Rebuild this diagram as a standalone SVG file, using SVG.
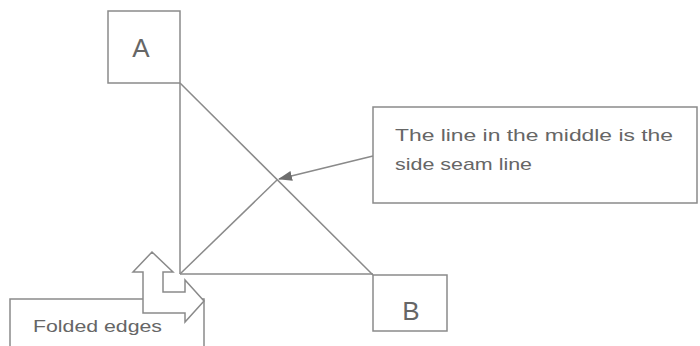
<svg xmlns="http://www.w3.org/2000/svg" width="700" height="346" viewBox="0 0 700 346">
<style>
.box{fill:#fff;stroke:#8a8a8a;stroke-width:1.5}
.ln{fill:none;stroke:#8a8a8a;stroke-width:1.5}
.t{font-family:"Liberation Sans",Arial,sans-serif;fill:#666}
</style>
<defs>
<marker id="ah" markerWidth="14" markerHeight="10" refX="13" refY="5" orient="auto" markerUnits="userSpaceOnUse" viewBox="0 0 14 10">
<path d="M0,0 L14,5 L0,10 Z" fill="#6e6e6e"/>
</marker>
</defs>
<rect width="700" height="346" fill="#fff"/>
<g id="connectors">
<line class="ln" x1="180" y1="83" x2="180" y2="274"/>
<line class="ln" x1="180" y1="274" x2="373" y2="274"/>
<line class="ln" x1="180" y1="83" x2="373" y2="275"/>
<line class="ln" x1="180" y1="274" x2="277" y2="180"/>
<line class="ln" x1="373" y1="156" x2="279" y2="179" marker-end="url(#ah)" style="stroke-width:1.7"/>
</g>
<g id="nodeA">
<rect class="box" x="108" y="11" width="72" height="72"/>
<text class="t" x="141" y="57" font-size="26" text-anchor="middle">A</text>
</g>
<g id="nodeB">
<rect class="box" x="373" y="275" width="74" height="56"/>
<text class="t" x="411" y="320" font-size="26" text-anchor="middle">B</text>
</g>
<g id="callout">
<rect class="box" x="373" y="107" width="324" height="96"/>
<text class="t" x="395" y="141" font-size="17" textLength="278" lengthAdjust="spacingAndGlyphs">The line in the middle is the</text>
<text class="t" x="395" y="170" font-size="17" textLength="137" lengthAdjust="spacingAndGlyphs">side seam line</text>
</g>
<g id="folded">
<rect class="box" x="10" y="299" width="194" height="60"/>
<text class="t" x="33" y="332" font-size="17" textLength="129" lengthAdjust="spacingAndGlyphs">Folded edges</text>
</g>
<g id="foldArrow">
<path class="box" d="M152,252 L133,272 L143,272 L143,313 L185,313 L185,322 L204,301 L185,280 L185,292 L163,292 L163,272 L173,272 Z"/>
</g>
</svg>
